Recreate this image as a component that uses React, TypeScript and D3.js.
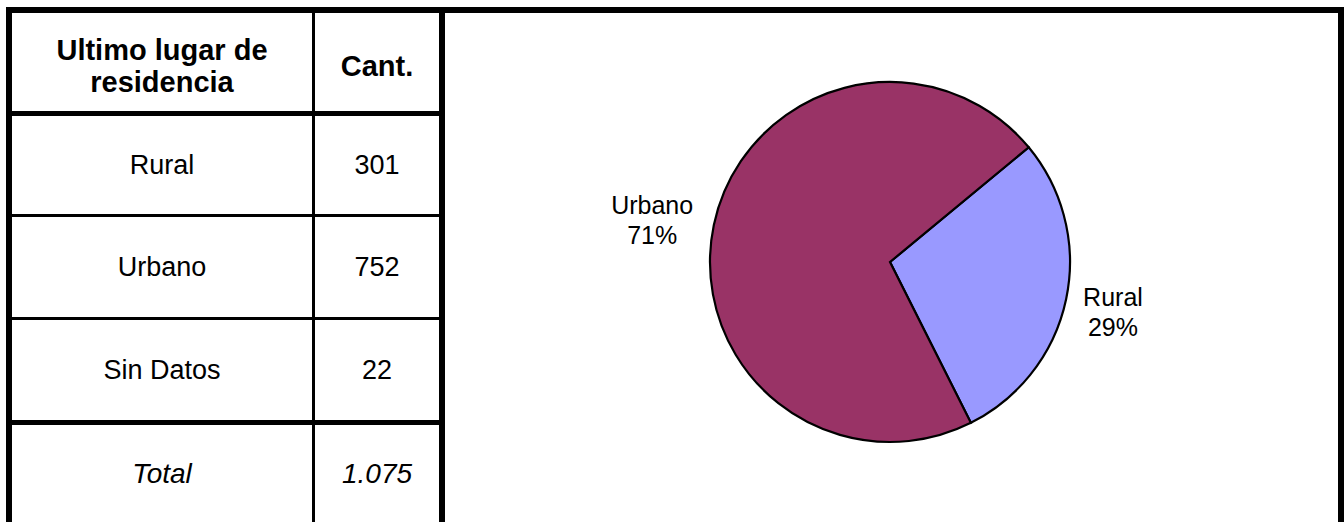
import { useEffect, useRef } from 'react';
import * as d3 from 'd3';

// table data
const headers = ['Ultimo lugar de|residencia', 'Cant.'];
const categories = ['Rural', 'Urbano', 'Sin Datos'];
const counts = [301, 752, 22];
const totalLabel = 'Total';

// pie data (Sin Datos excluded)
const pieCategories = ['Rural', 'Urbano'];
const pieValues = [301, 752];
const pieColors = ['#9999FF', '#993366'];

const W = 1344;
const H = 522;
const FONT = "Arial, 'Liberation Sans', sans-serif";

const esLocale = d3.formatLocale({
  decimal: ',',
  thousands: '.',
  grouping: [3],
  currency: ['', ''],
});
const fmtInt = esLocale.format(',d');

export default function App() {
  const ref = useRef<SVGSVGElement | null>(null);

  useEffect(() => {
    const svg = d3.select(ref.current);
    svg.selectAll('*').remove();

    svg.append('rect').attr('width', W).attr('height', H).attr('fill', '#fff');

    // ---- table ----
    const colX = [12, 315]; // inner left edges
    const colW = [300, 124];
    const rowTop = [13, 116, 217, 320, 425];
    const rowBottom = [111, 214, 317, 420, 522];
    const rowCenter = rowTop.map((t, i) => (t + rowBottom[i]) / 2);
    const colCenter = colX.map((x, i) => x + colW[i] / 2);

    const t = svg.append('g').attr('font-family', FONT).attr('fill', '#000');

    // header
    headers.forEach((h, ci) => {
      const lines = h.split('|');
      const pitch = 32;
      const txt = t
        .append('text')
        .attr('text-anchor', 'middle')
        .attr('font-weight', 'bold')
        .attr('font-size', 29);
      lines.forEach((ln, li) => {
        txt
          .append('tspan')
          .attr('x', colCenter[ci])
          .attr('y', rowCenter[0] + 4 + (li - (lines.length - 1) / 2) * pitch)
          .attr('dy', '0.35em')
          .text(ln);
      });
    });

    // body rows
    categories.forEach((c, i) => {
      t.append('text')
        .attr('x', colCenter[0])
        .attr('y', rowCenter[i + 1])
        .attr('dy', '0.35em')
        .attr('text-anchor', 'middle')
        .attr('font-size', 27)
        .text(c);
      t.append('text')
        .attr('x', colCenter[1])
        .attr('y', rowCenter[i + 1])
        .attr('dy', '0.35em')
        .attr('text-anchor', 'middle')
        .attr('font-size', 27)
        .text(fmtInt(counts[i]));
    });

    // total row
    const total = d3.sum(counts);
    t.append('text')
      .attr('x', colCenter[0])
      .attr('y', rowCenter[4])
      .attr('dy', '0.35em')
      .attr('text-anchor', 'middle')
      .attr('font-size', 28)
      .attr('font-style', 'italic')
      .text(totalLabel);
    t.append('text')
      .attr('x', colCenter[1])
      .attr('y', rowCenter[4])
      .attr('dy', '0.35em')
      .attr('text-anchor', 'middle')
      .attr('font-size', 28)
      .attr('font-style', 'italic')
      .text(fmtInt(total));

    // borders
    const b = svg.append('g').attr('fill', '#000');
    b.append('rect').attr('x', 6).attr('y', 7).attr('width', W - 6).attr('height', 6);
    b.append('rect').attr('x', 6).attr('y', 7).attr('width', 6).attr('height', H - 7);
    b.append('rect').attr('x', W - 6).attr('y', 7).attr('width', 6).attr('height', H - 7);
    b.append('rect').attr('x', 439).attr('y', 13).attr('width', 6).attr('height', H - 13);
    b.append('rect').attr('x', 312).attr('y', 13).attr('width', 3).attr('height', H - 13);
    rowBottom.slice(0, 4).forEach((y, i) => {
      b.append('rect')
        .attr('x', 12)
        .attr('y', y)
        .attr('width', 427)
        .attr('height', rowTop[i + 1] - y);
    });

    // ---- pie ----
    const cx = 890;
    const cy = 262;
    const r = 180;
    const a0 = (50.4 * Math.PI) / 180;

    const pieData = pieCategories.map((c, i) => ({ label: c, value: pieValues[i] }));
    const pie = d3
      .pie<{ label: string; value: number }>()
      .sort(null)
      .value(d => d.value)
      .startAngle(a0)
      .endAngle(a0 + 2 * Math.PI);
    const arc = d3
      .arc<d3.PieArcDatum<{ label: string; value: number }>>()
      .innerRadius(0)
      .outerRadius(r);

    const g = svg.append('g').attr('transform', `translate(${cx}, ${cy})`);
    const arcs = pie(pieData);
    const pieTotal = d3.sum(pieValues);
    const pct = d3.format('.0%');

    g.selectAll('path')
      .data(arcs)
      .enter()
      .append('path')
      .attr('d', arc)
      .attr('fill', (d, i) => pieColors[i])
      .attr('stroke', '#000')
      .attr('stroke-width', 2.2)
      .attr('stroke-linejoin', 'miter');

    const labelR = r + 20;
    const fs = 25;
    const pitch = 30;
    arcs.forEach(d => {
      const mid = (d.startAngle + d.endAngle) / 2;
      const s = Math.sin(mid);
      const c = Math.cos(mid);
      const txt = g
        .append('text')
        .attr('font-family', FONT)
        .attr('font-size', fs)
        .attr('text-anchor', 'middle')
        .attr('fill', '#000');
      const lines = [d.data.label, pct(d.data.value / pieTotal)];
      const spans = lines.map(ln => txt.append('tspan').text(ln));
      const w = Math.max(
        ...spans.map(sp => (sp.node() as SVGTSpanElement).getComputedTextLength())
      );
      const h = pitch + fs * 0.72;
      const tx = labelR * s + (s * w) / 2 - 2;
      const ty = -labelR * c - (c * h) / 2 + 4;
      spans.forEach((sp, li) => {
        sp.attr('x', tx)
          .attr('y', ty + (li - 0.5) * pitch)
          .attr('dy', '0.35em');
      });
    });
  }, []);

  return (
    <div style={{ position: 'absolute', left: 0, top: 0 }}>
      <svg ref={ref} width={W} height={H} style={{ display: 'block' }}></svg>
    </div>
  );
}
